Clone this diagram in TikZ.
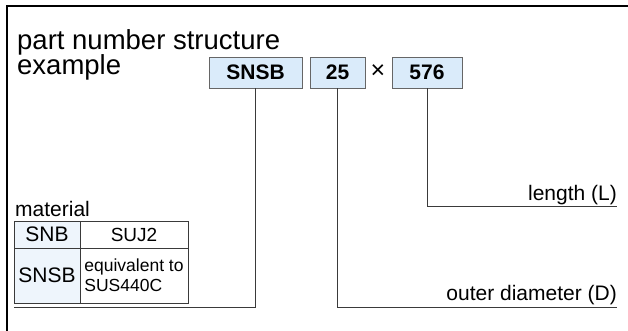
\documentclass[tikz,border=0pt]{standalone}
\usepackage{fontspec}
\setmainfont{Liberation Sans}
\usetikzlibrary{positioning}

\definecolor{partblue}{HTML}{DAEBFA}
\definecolor{cellblue}{HTML}{EEF5FC}
\definecolor{boxgray}{HTML}{666666}
\definecolor{leadgray}{HTML}{3A3A3A}

\tikzset{
    partbox/.style={draw=boxgray, line width=0.8pt, fill=partblue, minimum height=31pt,
        inner sep=0pt, font=\fontsize{21}{21}\selectfont\bfseries},
    matcell/.style={draw=leadgray, line width=0.8pt, inner sep=0pt,
        font=\fontsize{21}{21}\selectfont},
    leader/.style={draw=leadgray, line width=0.9pt},
    calltext/.style={anchor=base east, inner sep=0pt, font=\fontsize{21}{21}\selectfont},
}

\begin{document}
\begin{tikzpicture}[x=1pt,y=-1pt]
    \useasboundingbox (0,0) rectangle (628,331);

    % Frame
    \draw[line width=1.5pt] (7,331) -- (7,6) -- (628,6);

    % Title
    \node[anchor=base west, inner sep=0pt, font=\fontsize{27.5}{27.5}\selectfont] (title) at (17,50) {part number structure};
    \node[anchor=base west, inner sep=0pt, font=\fontsize{27.5}{27.5}\selectfont] (titleex) at (17,75) {example};

    % Part number
    \node[partbox, minimum width=93pt] (snsb) at (255.5,72.5) {SNSB};
    \node[partbox, minimum width=55pt] (dia) at (337.5,72.5) {25};
    \node[font=\fontsize{25}{25}\selectfont] (times) at (378,71.5) {×};
    \node[partbox, minimum width=70pt] (len) at (427,72.5) {576};

    % Material table
    \node[anchor=base west, inner sep=0pt, font=\fontsize{21}{21}\selectfont] (mattitle) at (15,216) {material};
    \node[matcell, fill=cellblue, minimum width=66pt, minimum height=27pt] (snbcell) at (47,234.5) {SNB};
    \node[matcell, minimum width=108pt, minimum height=27pt, font=\fontsize{19}{19}\selectfont] (sujcell) at (134,234.5) {SUJ2};
    \node[matcell, fill=cellblue, minimum width=66pt, minimum height=55pt] (snsbcell) at (47,275.5) {SNSB};
    \node[matcell, minimum width=108pt, minimum height=55pt, align=left,
        font=\fontsize{17.5}{20}\selectfont] (suscell) at (134,275.5) {equivalent to\\SUS440C};

    % Leaders
    \coordinate (matend) at (14,307);
    \coordinate (diaend) at (617,307);
    \coordinate (lenend) at (617,206);
    \draw[leader] (snsb.south) |- (matend);
    \draw[leader] (dia.south) |- (diaend);
    \draw[leader] (len.south) |- (lenend);

    \node[calltext] (lentext) at (617,200) {length (L)};
    \node[calltext] (diatext) at (617,300) {outer diameter (D)};
\end{tikzpicture}
\end{document}
